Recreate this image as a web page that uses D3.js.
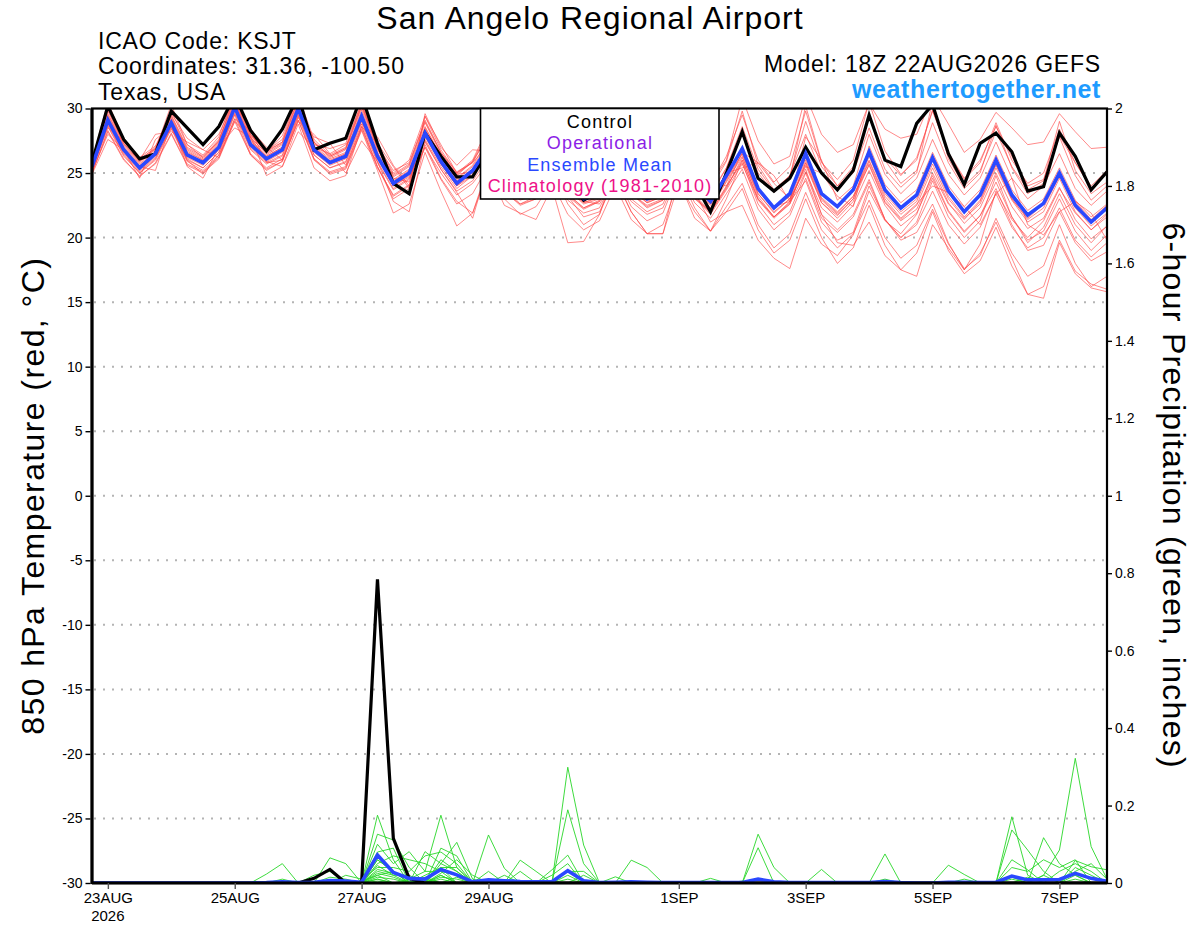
<!DOCTYPE html>
<html><head><meta charset="utf-8">
<script src="https://cdn.jsdelivr.net/npm/d3@7/dist/d3.min.js"></script>
<style>
html,body{margin:0;padding:0;background:#fff;}
svg{display:block;font-family:"Liberation Sans",Arial,Helvetica,sans-serif;}
</style></head><body>
<svg id="chart" width="1200" height="927"></svg>
<script>
// ---------------- DATA ----------------
const startTimeUTC = "2026-08-22T18:00:00Z";
const stepHours = 6;

const tempTicks = [-30,-25,-20,-15,-10,-5,0,5,10,15,20,25,30];
const gridTemps = [-25,-20,-15,-10,-5,0,5,10,15,20,25];
const precipTicks = [0,0.2,0.4,0.6,0.8,1,1.2,1.4,1.6,1.8,2];
const precipTickLabels = ["0","0.2","0.4","0.6","0.8","1","1.2","1.4","1.6","1.8","2"];
const xTickDates = ["2026-08-23","2026-08-25","2026-08-27","2026-08-29","2026-09-01","2026-09-03","2026-09-05","2026-09-07"];
const xTickLabels = ["23AUG","25AUG","27AUG","29AUG","1SEP","3SEP","5SEP","7SEP"];
const xYearLabel = "2026";

// Control (black) 850 hPa temperature, C
const controlTemp = [25.8,
 30.2,27.6,26.1,26.5, 29.8,28.5,27.2,28.6, 31.0,28.3,26.7,28.4, 31.0,26.8,27.3,27.7,
 31.0,27.3,24.2,23.4, 28.1,26.3,24.7,24.7, 26.8,25.0,23.8,23.9, 26.5,24.5,22.9,23.6,
 26.6,24.6,23.3,23.8, 26.8,24.2,22.0,25.0, 28.2,24.6,23.6,24.6, 27.0,25.0,23.7,25.2,
 29.5,26.0,25.5,28.85, 30.3,26.5,24.1,27.3, 28.1,26.65,23.6,23.95, 28.1,26.3,23.7,25.1];

// Ensemble mean (blue) temperature
const meanTemp = [25.5,
 29.1,26.8,25.4,26.5, 28.9,26.4,25.8,27.0, 30.1,27.2,26.1,26.8, 30.0,26.8,25.8,26.3,
 29.4,26.3,24.2,25.0, 28.1,25.9,24.2,25.2, 27.0,24.6,23.5,24.0, 26.3,24.0,23.0,23.4,
 26.0,24.0,23.0,23.5, 26.4,24.0,22.8,24.8, 26.9,23.8,22.3,23.4, 26.5,23.4,22.4,23.7,
 26.65,23.7,22.3,23.3, 26.2,23.6,22.0,23.3, 26.0,23.3,21.75,22.65, 25.0,22.5,21.2,22.3];

// Perturbed members (red) temperature
const tempMembers = [
 [25.8, 29.5,27.2,25.8,26.9, 29.4,26.9,26.2,27.5, 30.8,27.8,26.5,27.3, 30.6,27.3,26.2,26.8, 30.1,26.9,24.8,25.6, 28.9,26.5,24.8,25.9, 27.9,25.2,24.1,24.6, 27.1,24.6,23.5,24.1, 25.2,25.6,24.6,23.4, 27.5,26.2,24.3,24.0, 26.6,25.8,24.8,22.8, 27.8,26.0,22.9,24.0, 28.0,24.9,23.4,24.6, 27.6,24.9,23.3,24.6, 27.4,24.6,23.0,24.0, 26.5,23.8,22.5,23.6],
 [25.0, 28.2,26.0,24.8,25.7, 28.0,25.6,25.0,26.1, 29.0,26.4,25.3,25.9, 29.1,26.0,25.0,25.4, 28.4,25.4,23.3,24.1, 27.0,25.0,23.3,24.2, 25.8,23.6,22.5,23.0, 25.1,22.9,21.9,22.3, 24.8,22.8,21.8,22.3, 25.1,22.7,21.5,23.4, 25.3,22.2,20.6,21.7, 24.6,21.5,20.4,21.6, 24.3,21.4,20.0,21.0, 23.6,21.0,19.5,20.8, 23.4,20.8,19.2,20.0, 22.3,19.8,18.5,19.6],
 [26.0, 30.5,27.5,26.0,27.0, 29.8,27.2,26.4,27.8, 31.2,28.0,26.7,27.6, 31.0,27.6,26.4,27.0, 30.5,27.2,25.0,26.0, 29.4,26.8,25.0,26.0, 28.6,25.8,24.5,25.2, 28.2,25.3,24.0,24.6, 27.8,25.3,24.2,24.8, 28.6,25.6,24.1,26.3, 29.5,26.0,24.3,25.5, 29.8,25.8,24.5,26.0, 30.5,26.7,24.9,26.0, 29.9,26.5,24.5,25.8, 28.9,26.0,24.2,25.0, 28.4,25.8,24.0,25.2],
 [25.3, 28.8,26.5,25.1,26.2, 28.5,26.0,25.4,26.6, 29.6,26.8,25.7,26.3, 29.5,26.4,25.4,25.8, 28.8,25.8,23.7,24.5, 27.5,25.3,23.6,24.4, 26.2,23.9,22.6,23.0, 25.2,22.6,21.0,21.8, 24.9,22.4,21.3,21.9, 25.0,22.3,20.5,22.4, 24.2,21.0,19.2,20.3, 23.5,20.6,19.2,20.3, 22.9,20.0,18.4,19.4, 22.2,19.5,17.6,18.6, 21.5,18.8,17.0,17.8, 21.0,18.0,16.2,17.0],
 [25.4, 28.6,26.3,25.0,26.0, 28.4,25.9,25.2,26.4, 29.5,26.5,25.4,26.1, 29.4,26.1,25.1,25.5, 28.6,25.5,23.2,24.0, 27.0,24.5,22.6,23.4, 25.6,23.0,21.8,22.4, 24.3,21.8,20.6,21.3, 24.0,21.4,20.3,21.0, 24.4,21.5,20.5,22.0, 23.8,20.6,18.8,19.8, 23.0,20.0,18.0,19.2, 22.5,19.4,17.5,18.8, 22.0,19.0,17.2,18.2, 20.8,17.8,15.6,15.3, 19.6,17.2,16.1,15.8],
 [25.9, 29.8,27.4,26.2,27.1, 29.5,27.0,26.3,27.6, 30.6,27.7,26.6,27.4, 30.7,27.4,26.3,26.9, 30.2,27.1,25.2,25.8, 29.0,26.6,25.1,25.8, 28.0,25.7,24.6,25.0, 27.6,25.3,24.4,24.6, 27.3,25.4,24.3,24.8, 28.1,25.5,24.2,26.0, 30.8,27.5,25.7,26.3, 31.0,28.0,26.6,27.2, 30.4,28.4,27.7,28.0, 30.9,28.8,26.6,27.6, 29.7,28.5,27.2,27.4, 29.6,28.2,26.9,27.0],
 [25.2, 28.9,26.6,25.2,26.3, 28.7,26.2,25.6,26.8, 29.9,27.0,25.9,26.6, 29.8,26.6,25.6,26.1, 29.1,26.1,24.0,24.7, 27.8,25.7,24.0,24.8, 26.6,24.4,23.3,23.7, 26.0,23.7,22.6,23.0, 25.6,23.7,22.7,23.2, 26.0,23.6,22.3,24.3, 26.3,23.2,21.6,22.7, 25.8,22.7,21.7,23.0, 25.9,23.0,21.5,22.6, 24.0,23.5,22.4,21.0, 23.4,24.6,21.0,20.2, 22.0,22.8,21.9,19.8],
 [25.6, 29.2,26.9,25.5,26.6, 29.1,26.5,25.9,27.1, 30.3,28.4,27.0,26.0, 29.0,28.0,26.5,27.2, 28.8,27.8,25.6,24.0, 29.4,27.2,25.0,25.8, 27.2,24.7,23.4,24.1, 26.5,24.2,23.1,23.6, 26.2,24.1,23.2,23.8, 26.5,23.5,21.2,22.0, 22.5,19.8,18.4,17.6, 21.5,19.5,18.6,20.2, 23.6,21.3,20.3,21.8, 25.0,22.6,21.4,22.8, 25.6,23.0,21.5,22.6, 24.8,22.8,21.4,22.5],
 [25.5, 29.0,26.7,25.3,26.4, 28.8,26.3,25.7,26.9, 30.0,27.1,26.0,26.7, 29.9,26.7,25.7,26.2, 29.3,26.2,24.1,24.9, 28.0,25.8,24.1,25.1, 26.9,24.5,23.2,23.6, 25.8,23.2,21.6,22.0, 24.5,22.0,20.3,20.3, 25.2,23.0,22.0,23.8, 26.2,23.4,22.0,23.0, 25.3,21.8,19.6,19.4, 21.2,18.6,17.5,17.0, 21.0,19.2,17.5,19.5, 23.6,21.4,20.0,21.3, 23.8,21.9,20.6,21.6],
 [25.1, 28.0,26.8,25.5,25.2, 28.9,25.5,24.6,27.0, 28.5,27.8,24.8,25.5, 28.8,25.4,24.4,24.8, 28.6,25.5,23.0,23.8, 27.2,24.6,22.8,21.9, 25.2,22.5,21.9,21.4, 23.9,19.6,19.7,21.8, 25.5,23.4,22.4,22.9, 25.9,23.7,22.5,24.4, 26.5,23.6,22.2,23.2, 26.2,23.1,22.0,23.2, 26.0,23.2,21.8,22.8, 25.7,23.0,21.5,22.6, 25.4,22.9,21.2,22.0, 24.6,22.0,20.6,21.8],
 [25.7, 29.4,27.1,25.7,26.7, 29.2,26.7,26.0,27.3, 30.4,27.5,26.3,27.0, 30.3,27.0,26.0,26.5, 29.7,26.6,24.5,25.3, 28.4,26.2,24.5,25.5, 27.3,24.9,23.7,24.2, 26.2,23.8,22.8,22.6, 24.6,22.0,20.3,20.3, 24.2,22.0,20.5,23.0, 26.0,23.0,21.6,22.6, 25.8,22.9,21.8,23.0, 26.3,23.4,22.0,23.0, 26.0,23.2,21.6,22.9, 25.7,23.0,21.4,22.3, 24.8,22.3,20.9,21.9],
 [25.4, 29.3,27.0,25.6,26.6, 29.0,26.6,26.0,27.2, 30.2,27.4,26.3,27.0, 30.1,27.0,25.9,26.5, 29.5,26.4,24.4,25.2, 28.2,26.0,24.4,25.3, 27.1,24.8,23.7,24.2, 26.5,24.2,23.2,23.6, 26.2,24.2,23.1,23.7, 26.6,24.2,23.0,25.0, 25.4,25.8,24.2,23.0, 25.5,25.0,23.2,22.4, 27.1,24.1,22.7,23.7, 26.6,24.0,22.4,23.7, 26.4,23.7,22.1,23.0, 25.4,22.9,21.6,22.6],
 [25.3, 28.7,26.4,25.0,26.1, 28.6,26.1,25.4,26.6, 29.7,26.9,25.8,26.4, 29.6,26.4,25.4,25.9, 29.0,25.9,23.8,24.6, 27.6,25.5,23.8,24.8, 26.5,24.1,23.0,23.5, 25.7,23.4,22.3,22.8, 25.4,23.4,22.3,22.9, 25.7,23.3,22.0,24.0, 25.8,22.6,21.0,22.0, 25.0,21.8,20.6,21.8, 24.5,21.4,19.8,20.4, 22.6,19.6,17.5,18.8, 21.2,18.4,15.6,16.2, 19.8,17.4,16.4,16.0],
 [25.9, 30.0,27.5,26.1,26.9, 29.6,27.7,26.8,28.0, 30.8,28.0,26.6,27.9, 30.9,27.2,26.9,27.3, 30.4,27.0,24.6,24.3, 28.5,26.4,24.9,25.1, 27.4,25.0,23.9,24.3, 27.0,24.6,23.4,23.9, 26.8,24.6,23.5,24.1, 27.2,24.5,23.2,25.4, 28.6,25.3,23.6,24.8, 28.0,25.0,23.8,25.3, 29.3,26.2,24.8,26.2, 29.8,26.6,24.6,26.0, 28.6,26.3,24.0,24.5, 27.9,25.8,23.8,25.0],
 [24.9, 27.6,26.8,24.6,27.6, 28.6,26.0,24.9,26.4, 29.0,27.8,25.9,25.5, 28.2,27.0,26.5,25.0, 27.5,25.9,22.8,22.0, 27.4,25.3,23.5,21.5, 25.7,23.8,22.9,23.3, 25.5,23.2,22.2,22.8, 25.2,23.0,22.0,22.6, 25.4,23.1,21.8,23.7, 25.7,22.9,21.5,22.6, 25.1,22.3,21.2,22.5, 25.2,22.5,20.9,21.9, 24.6,22.0,20.4,21.7, 24.3,21.6,19.8,20.5, 23.0,20.5,19.0,20.2],
 [25.6, 29.6,27.3,25.9,26.9, 29.3,26.8,26.1,27.4, 30.5,27.6,26.4,27.2, 30.4,27.1,26.1,26.6, 29.9,26.8,24.7,25.5, 28.6,26.3,24.6,25.6, 27.6,25.2,24.0,24.4, 26.9,24.5,23.4,24.0, 26.6,24.4,23.4,24.1, 27.1,24.6,23.4,25.4, 28.2,25.0,23.5,24.6, 30.2,25.9,24.0,25.0, 28.5,25.3,23.9,25.0, 30.6,26.1,24.0,25.2, 28.2,25.5,23.7,24.4, 29.0,25.2,23.4,24.3],
 [25.2, 28.5,27.5,26.0,28.0, 28.2,27.4,26.8,26.2, 29.2,28.3,25.8,26.0, 29.3,27.8,27.3,25.6, 28.6,27.3,25.5,23.8, 29.6,27.0,25.6,26.8, 26.7,24.3,23.2,23.8, 26.0,23.7,22.7,23.2, 25.8,23.8,22.8,23.3, 26.2,23.9,22.6,24.5, 26.9,23.8,22.4,22.8, 24.4,21.2,19.8,20.4, 24.0,21.4,20.0,21.2, 24.4,21.6,20.0,21.3, 24.8,21.6,19.6,20.8, 23.4,21.0,19.6,20.9],
 [25.7, 29.9,27.3,25.9,26.8, 30.3,27.2,26.2,27.5, 31.0,27.9,26.7,27.4, 30.8,27.4,26.3,26.9, 30.3,27.0,24.9,25.7, 29.1,26.6,24.9,25.9, 28.3,25.5,24.2,24.8, 27.4,25.0,23.9,24.4, 27.3,25.0,23.9,24.5, 27.9,25.1,23.8,25.9, 29.8,25.6,23.7,24.8, 29.0,25.5,24.0,25.5, 29.5,26.0,24.2,25.2, 28.9,25.8,23.8,25.0, 28.7,25.4,23.4,24.2, 27.8,24.8,22.9,24.0],
 [25.5, 29.1,26.8,25.4,26.5, 28.9,26.4,25.8,27.0, 30.0,27.1,26.1,26.8, 29.9,26.8,25.8,26.2, 29.3,26.2,24.0,24.8, 27.9,25.7,24.0,25.0, 26.8,24.4,23.3,23.8, 26.1,23.8,22.7,23.1, 25.8,23.7,22.7,23.2, 26.2,23.8,22.6,24.6, 26.5,23.4,21.9,23.0, 26.0,23.0,21.9,23.2, 25.6,22.7,21.3,22.2, 24.8,22.1,20.5,21.7, 23.8,21.0,19.0,19.4, 22.0,19.6,18.2,18.9],
 [25.0, 28.3,26.1,24.7,25.8, 28.1,25.7,25.1,26.2, 29.2,26.4,25.2,25.9, 29.1,26.1,24.9,25.3, 28.3,25.2,21.9,22.6, 26.6,23.6,20.9,21.9, 25.6,23.5,22.6,23.2, 25.4,23.3,22.3,22.9, 25.2,23.4,22.5,23.0, 25.6,23.2,21.9,23.9, 26.0,23.0,21.6,22.8, 25.6,22.7,21.5,22.8, 25.7,22.8,21.4,22.5, 25.4,22.7,21.1,22.3, 25.0,22.4,20.7,21.5, 23.9,21.4,19.9,20.9]
];

// Control (black) 6-hour precipitation, inches
const controlPrecip = [0,
 0,0,0,0, 0,0,0,0, 0,0,0,0, 0,0.012,0.035,0,
 0,0.784,0.115,0.012, 0,0,0,0, 0,0,0,0, 0,0,0,0,
 0,0,0,0, 0,0,0,0, 0,0,0,0, 0,0,0,0,
 0,0,0,0, 0,0,0,0, 0,0,0,0, 0,0,0,0];

// Ensemble mean (blue) precipitation
const meanPrecip = [0,
 0,0,0,0, 0,0,0,0, 0,0,0.001,0.003, 0.001,0.002,0.006,0.005,
 0.002,0.072,0.027,0.012, 0.01,0.035,0.021,0.003, 0.008,0.006,0.004,0.003, 0.003,0.032,0.006,0.001,
 0.002,0.003,0.002,0.001, 0.001,0.001,0.001,0.001, 0.001,0.01,0.003,0.001, 0.001,0.001,0.001,0.001,
 0.001,0.004,0.001,0, 0,0.002,0.002,0.001, 0.002,0.018,0.008,0.008, 0.009,0.025,0.012,0.004];

// Perturbed members (green) precipitation: [step index, inches]; all other steps are 0
const precipMembers = [
 [[11,0.023],[12,0.05],[18,0.175],[19,0.06],[22,0.04],[30,0.299],[31,0.098],[60,0.02],[61,0.085],[62,0.322],[63,0.094],[64,0.01]],
 [[15,0.065],[16,0.05],[18,0.126],[19,0.111],[20,0.04],[30,0.189],[31,0.05],[58,0.171],[59,0.02]],
 [[18,0.10],[19,0.05],[20,0.081],[21,0.03],[22,0.175],[23,0.04],[42,0.126],[43,0.04],[58,0.137],[59,0.085],[60,0.03]],
 [[18,0.08],[19,0.09],[21,0.081],[22,0.05],[23,0.105],[24,0.01],[34,0.059],[35,0.04],[42,0.091],[60,0.117],[61,0.05],[62,0.02]],
 [[14,0.02],[15,0.03],[18,0.06],[19,0.03],[22,0.09],[23,0.07],[25,0.124],[26,0.038],[50,0.075]],
 [[18,0.05],[19,0.07],[20,0.06],[21,0.05],[22,0.03],[27,0.059],[28,0.03],[54,0.046],[55,0.022],[58,0.06],[59,0.034],[62,0.058],[63,0.042],[64,0.034]],
 [[16,0.02],[17,0.01],[18,0.04],[19,0.04],[20,0.03],[21,0.07],[22,0.08],[23,0.05],[29,0.034],[30,0.072],[46,0.035],[62,0.04],[63,0.02]],
 [[18,0.03],[19,0.02],[20,0.02],[22,0.05],[23,0.03],[26,0.02],[29,0.02],[30,0.05],[33,0.016],[39,0.012],[55,0.01],[61,0.03],[62,0.05],[63,0.03]],
 [[18,0.02],[19,0.03],[21,0.02],[22,0.04],[23,0.04],[25,0.03],[27,0.03],[30,0.03],[31,0.03],[41,0.005],[50,0.01],[58,0.04],[59,0.03],[60,0.06],[61,0.04],[62,0.06]],
 [[18,0.01],[20,0.01],[21,0.03],[22,0.03],[23,0.02],[58,0.015],[60,0.02],[62,0.03],[63,0.05],[64,0.01]],
 [[12,0.01],[15,0.015],[16,0.01],[18,0.045],[19,0.02],[22,0.02],[24,0.005],[30,0.02],[62,0.02]],
 [[18,0.035],[19,0.025],[20,0.015],[22,0.06],[23,0.03],[31,0.02],[59,0.015]],
 [[18,0.015],[19,0.01],[22,0.015],[23,0.01]],
 [[18,0.025],[19,0.015],[21,0.01],[30,0.01]],
 [[17,0.005],[18,0.02],[20,0.005],[22,0.02],[58,0.01]],
 [[18,0.01],[22,0.01]],
 [[18,0.005],[21,0.015],[23,0.015]],
 [[62,0.01]],
 [],
 [[18,0.06],[19,0.03],[22,0.025],[23,0.06],[24,0.02]]
];

const titleText = "San Angelo Regional Airport";
const infoLeft = ["ICAO Code: KSJT", "Coordinates: 31.36, -100.50", "Texas, USA"];
const modelText = "Model: 18Z 22AUG2026 GEFS";
const siteText = "weathertogether.net";
const legendItems = [
 {label:"Control", color:"#000000"},
 {label:"Operational", color:"#8c1ee6"},
 {label:"Ensemble Mean", color:"#2a48ff"},
 {label:"Climatology (1981-2010)", color:"#ee1188"}
];
const leftTitle = "850 hPa Temperature (red, °C)";
const rightTitle = "6-hour Precipitation (green, inches)";

// ---------------- CHART ----------------
const svg = d3.select("#chart");
const P = {left:92, right:1107, top:108.5, bottom:883};
const nSteps = controlTemp.length;
const t0 = new Date(startTimeUTC).getTime();
const times = d3.range(nSteps).map(i => new Date(t0 + i*stepHours*3600e3));

const x = d3.scaleUtc().domain([times[0], times[nSteps-1]]).range([P.left, P.right]);
const yT = d3.scaleLinear().domain([-30,30]).range([P.bottom, P.top]);
const yP = d3.scaleLinear().domain([0,2]).range([P.bottom, P.top]);

svg.append("rect").attr("width",1200).attr("height",927).attr("fill","#fff");

svg.append("defs").append("clipPath").attr("id","plotclip").append("rect")
  .attr("x",P.left).attr("y",P.top).attr("width",P.right-P.left).attr("height",P.bottom-P.top);

// grid
svg.append("g").selectAll("line").data(gridTemps).join("line")
  .attr("x1",P.left+2).attr("x2",P.right-2)
  .attr("y1",d=>yT(d)).attr("y2",d=>yT(d))
  .attr("stroke","#b4b4b4").attr("stroke-width",2).attr("stroke-dasharray","2,7");

const lineT = d3.line().x((d,i)=>x(times[i])).y(d=>yT(d));
const lineP = d3.line().x((d,i)=>x(times[i])).y(d=>yP(d));

const plot = svg.append("g").attr("clip-path","url(#plotclip)");

// precipitation members
const precipSeries = precipMembers.map(m => {
  const s = new Array(nSteps).fill(0);
  m.forEach(([i,v]) => { s[i] = v; });
  return s;
});
plot.append("g").selectAll("path").data(precipSeries).join("path")
  .attr("d",lineP).attr("fill","none").attr("stroke","rgb(40,215,40)")
  .attr("stroke-width",0.9).attr("stroke-linejoin","miter");

// temperature members
plot.append("g").selectAll("path").data(tempMembers).join("path")
  .attr("d",lineT).attr("fill","none").attr("stroke","rgb(255,70,70)")
  .attr("stroke-opacity",0.75).attr("stroke-width",0.85);

// control & mean precip
plot.append("path").datum(controlPrecip).attr("d",lineP).attr("fill","none")
  .attr("stroke","#000").attr("stroke-width",3.2);
plot.append("path").datum(meanPrecip).attr("d",lineP).attr("fill","none")
  .attr("stroke","#2a48ff").attr("stroke-width",3.6);

// control & mean temp
plot.append("path").datum(controlTemp).attr("d",lineT).attr("fill","none")
  .attr("stroke","#000").attr("stroke-width",3.2).attr("stroke-linejoin","miter");
plot.append("path").datum(meanTemp).attr("d",lineT).attr("fill","none")
  .attr("stroke","#2a48ff").attr("stroke-width",3.6);

// frame
svg.append("rect").attr("x",P.left).attr("y",P.top)
  .attr("width",P.right-P.left).attr("height",P.bottom-P.top)
  .attr("fill","none").attr("stroke","#000").attr("stroke-width",2.2);
svg.append("line").attr("x1",P.left).attr("x2",P.left).attr("y1",P.top).attr("y2",P.bottom+1)
  .attr("stroke","#000").attr("stroke-width",3.2);
svg.append("line").attr("x1",P.left).attr("x2",P.right).attr("y1",P.bottom).attr("y2",P.bottom)
  .attr("stroke","#000").attr("stroke-width",3);

// axes
function styleAxis(g, fs){
  g.select(".domain").remove();
  g.selectAll(".tick line").attr("stroke","#000").attr("stroke-width",1.4);
  g.selectAll(".tick text").attr("fill","#000").style("font-size",fs+"px")
    .style("font-family","'Liberation Sans',Arial,sans-serif");
}
svg.append("g").attr("transform",`translate(${P.left-1.5},0)`)
  .call(d3.axisLeft(yT).tickValues(tempTicks).tickFormat(d=>String(d)).tickSize(5).tickSizeOuter(0).tickPadding(3))
  .call(g=>styleAxis(g,14));
svg.append("g").attr("transform",`translate(${P.right},0)`)
  .call(d3.axisRight(yP).tickValues(precipTicks).tickFormat((d,i)=>precipTickLabels[i]).tickSize(5).tickSizeOuter(0).tickPadding(3))
  .call(g=>styleAxis(g,14));
const xDates = xTickDates.map(s=>new Date(s+"T00:00:00Z"));
const xg = svg.append("g").attr("transform",`translate(0,${P.bottom})`)
  .call(d3.axisBottom(x).tickValues(xDates).tickFormat((d,i)=>xTickLabels[i]).tickSize(6).tickSizeOuter(0).tickPadding(3))
  .call(g=>styleAxis(g,15));
xg.selectAll(".tick line").attr("stroke","#555");
svg.append("text").attr("x",x(xDates[0])).attr("y",P.bottom+38)
  .attr("text-anchor","middle").style("font-size","15px").text(xYearLabel);

// axis titles
svg.append("text").attr("transform",`translate(44,${(P.top+P.bottom)/2}) rotate(-90)`)
  .attr("text-anchor","middle").style("font-size","32px").style("letter-spacing","1.4px")
  .text(leftTitle);
svg.append("text").attr("transform",`translate(1163,${(P.top+P.bottom)/2}) rotate(90)`)
  .attr("text-anchor","middle").style("font-size","32px").style("letter-spacing","1.3px")
  .text(rightTitle);

// header
svg.append("text").attr("x",590).attr("y",29).attr("text-anchor","middle")
  .style("font-size","32px").style("letter-spacing","1px").text(titleText);
svg.append("g").selectAll("text").data(infoLeft).join("text")
  .attr("x",98).attr("y",(d,i)=>48.5+i*25.5)
  .style("font-size","23px").style("letter-spacing","0.8px").text(d=>d);
svg.append("text").attr("x",1101).attr("y",72).attr("text-anchor","end")
  .style("font-size","23px").style("letter-spacing","0.8px").text(modelText);
svg.append("text").attr("x",1101).attr("y",98).attr("text-anchor","end")
  .style("font-size","25px").style("font-weight","bold").style("letter-spacing","0.6px")
  .attr("fill","#1e9bff").text(siteText);

// legend
const lg = svg.append("g");
lg.append("rect").attr("x",480.5).attr("y",108.5).attr("width",238.5).attr("height",90.5)
  .attr("fill","#fff").attr("stroke","#000").attr("stroke-width",1.6);
lg.selectAll("text").data(legendItems).join("text")
  .attr("x",600).attr("y",(d,i)=>128+i*21.3).attr("text-anchor","middle")
  .style("font-size","18px").style("letter-spacing","1.2px")
  .attr("fill",d=>d.color).text(d=>d.label);
</script></body></html>
